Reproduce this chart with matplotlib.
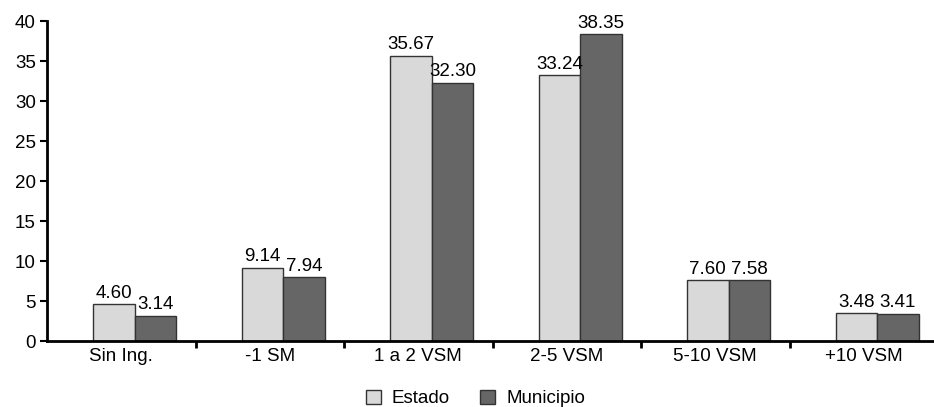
import matplotlib
matplotlib.use("Agg")
import matplotlib.pyplot as plt
import numpy as np
from matplotlib.ticker import FixedLocator

categories = ["Sin Ing.", "-1 SM", "1 a 2 VSM", "2-5 VSM", "5-10 VSM", "+10 VSM"]
estado = [4.60, 9.14, 35.67, 33.24, 7.60, 3.48]
municipio = [3.14, 7.94, 32.30, 38.35, 7.58, 3.41]
series_names = ["Estado", "Municipio"]

plt.rcParams['font.family'] = ['Liberation Sans', 'DejaVu Sans']
FS = 13.5

fig = plt.figure(figsize=(9.34, 4.07), dpi=100)
W, H = 934, 407
ax = fig.add_axes([47 / W, (H - 341) / H, (934 - 47) / W, (341 - 21) / H])

x = np.arange(len(categories))
bw = 0.28
off = 0.09
b1 = ax.bar(x + off - bw / 2, estado, bw, color="#d9d9d9", edgecolor="#333333", linewidth=1, label=series_names[0])
b2 = ax.bar(x + off + bw / 2, municipio, bw, color="#666666", edgecolor="#333333", linewidth=1, label=series_names[1])

for bars, vals in ((b1, estado), (b2, municipio)):
    for r, v in zip(bars, vals):
        ax.text(r.get_x() + r.get_width() / 2, v + 0.3, f"{v:.2f}", ha="center", va="bottom", fontsize=FS)

ax.set_ylim(0, 40)
ax.set_yticks(range(0, 41, 5))
ax.set_xlim(-0.5, 5.5 - 4 / 148.5)
ax.set_xticks(x)
ax.set_xticklabels(categories, fontsize=FS)
ax.tick_params(axis="x", length=0, pad=5)
ax.xaxis.set_minor_locator(FixedLocator(np.arange(0.5, 5.5, 1)))
ax.tick_params(axis="x", which="minor", length=5, width=2, direction="out")
ax.tick_params(axis="y", length=5, width=1.5, labelsize=FS, pad=3)

for s in ["top", "right"]:
    ax.spines[s].set_visible(False)
ax.spines["left"].set_linewidth(2)
ax.spines["bottom"].set_linewidth(2)

ax.legend(loc="lower center", bbox_to_anchor=(0.483, -0.26), ncol=2, frameon=False,
          fontsize=FS, handlelength=0.8, handleheight=0.8, columnspacing=1.6, handletextpad=0.6)

fig.savefig("out.png", dpi=100)
